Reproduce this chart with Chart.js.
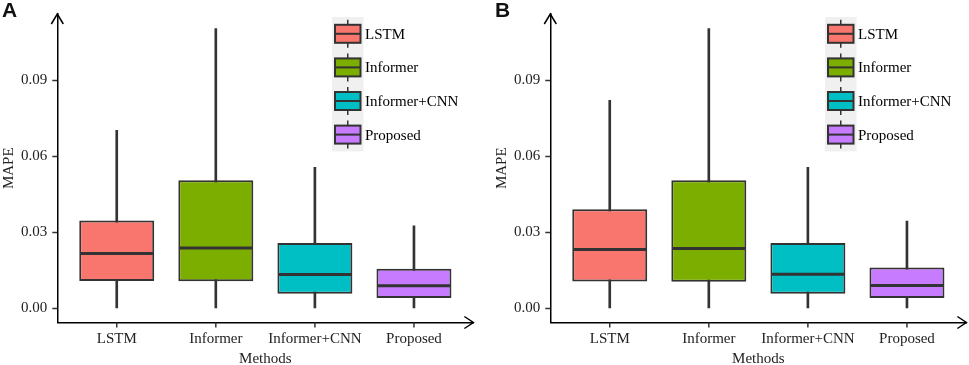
<!DOCTYPE html>
<html>
<head>
<meta charset="utf-8">
<script src="https://cdn.jsdelivr.net/npm/chart.js@4.4.1/dist/chart.umd.min.js"></script>
<style>
  html, body { margin: 0; padding: 0; background: #fff; }
  #wrap { position: relative; width: 969px; height: 365px; overflow: hidden; }
  .panel { position: absolute; top: 0; width: 476px; height: 365px; }
  .tag { position: absolute; top: -2px; left: 2px; font: bold 21px "Liberation Sans", Arial, sans-serif; color: #111; }
</style>
</head>
<body>
<div id="wrap">
  <div class="panel" style="left:0"><canvas id="chartA" width="476" height="365"></canvas><div class="tag">A</div></div>
  <div class="panel" style="left:493px"><canvas id="chartB" width="476" height="365"></canvas><div class="tag">B</div></div>
</div>
<script>
// métodos y colores (paleta por defecto de ggplot)
const methods = ["LSTM", "Informer", "Informer+CNN", "Proposed"];
const colors = ["#F8766D", "#7CAE00", "#00BFC4", "#C77CFF"];
const yTicks = [0, 0.03, 0.06, 0.09];
const yTickLabels = ["0.00", "0.03", "0.06", "0.09"];

// panel A: mínimo, Q1, mediana, Q3, máximo
const minA = [0, 0, 0, 0];
const q1A = [0.0108, 0.0107, 0.0057, 0.0041];
const medA = [0.0216, 0.0238, 0.0133, 0.0089];
const q3A = [0.0346, 0.0505, 0.0258, 0.0156];
const maxA = [0.0702, 0.1103, 0.0556, 0.0325];

// panel B
const minB = [0, 0, 0, 0];
const q1B = [0.0106, 0.0105, 0.0057, 0.0041];
const medB = [0.0232, 0.0236, 0.0134, 0.0090];
const q3B = [0.0391, 0.0505, 0.0258, 0.0161];
const maxB = [0.0820, 0.1103, 0.0556, 0.0344];

const INK = "#333333";
const TXT = "#222222";
const SERIF = "'Liberation Serif', 'Times New Roman', serif";

// flechas en los ejes, marcas del eje x + leyenda estilo ggplot
const decorPlugin = {
  id: "decor",
  afterDraw(chart){
    const { ctx, chartArea: a, scales } = chart;
    ctx.save();
    ctx.strokeStyle = "#000";
    ctx.lineWidth = 1.5;
    ctx.beginPath();
    ctx.moveTo(a.left - 6, a.top + 10); ctx.lineTo(a.left, a.top); ctx.lineTo(a.left + 6, a.top + 10);
    ctx.moveTo(a.right - 9, a.bottom - 6); ctx.lineTo(a.right, a.bottom); ctx.lineTo(a.right - 9, a.bottom + 6);
    ctx.stroke();

    // marcas bajo el eje x, en cada categoría
    ctx.strokeStyle = INK;
    ctx.lineWidth = 1.5;
    ctx.beginPath();
    methods.forEach((m, i) => {
      const px = scales.x.getPixelForValue(i + 1);
      ctx.moveTo(px, a.bottom); ctx.lineTo(px, a.bottom + 5);
    });
    ctx.stroke();

    // leyenda
    const lx = 332, ly = 17, cell = 33.6;
    ctx.fillStyle = "#F0F0F0";
    ctx.fillRect(lx, ly, 31.5, cell * methods.length);
    methods.forEach((m, k) => {
      const cy = ly + cell * k + cell / 2;
      const cx = lx + 15.75;
      ctx.strokeStyle = INK;
      ctx.lineWidth = 1.5;
      ctx.beginPath();
      ctx.moveTo(cx, cy - 14); ctx.lineTo(cx, cy + 14);
      ctx.stroke();
      ctx.fillStyle = colors[k];
      ctx.fillRect(lx + 3, cy - 9, 25.5, 18);
      ctx.lineWidth = 2;
      ctx.strokeRect(lx + 3, cy - 9, 25.5, 18);
      ctx.beginPath();
      ctx.moveTo(lx + 3, cy); ctx.lineTo(lx + 28.5, cy);
      ctx.stroke();
      ctx.fillStyle = "#000";
      ctx.font = "15px " + SERIF;
      ctx.textBaseline = "middle";
      ctx.textAlign = "left";
      ctx.fillText(m, lx + 33, cy + 1);
    });
    ctx.restore();
  }
};

function makeChart(id, mins, q1s, meds, q3s, maxs){
  const pts = (f) => methods.map((m, i) => ({ x: i + 1, y: f(i) }));
  return new Chart(document.getElementById(id), {
    type: "bar",
    data: {
      datasets: [
        {
          // bigotes
          data: pts(i => [mins[i], maxs[i]]),
          backgroundColor: INK,
          barThickness: 2,
          grouped: false,
          order: 3
        },
        {
          // cajas
          data: pts(i => [q1s[i], q3s[i]]),
          backgroundColor: colors,
          borderColor: INK,
          borderWidth: 2,
          borderSkipped: false,
          barPercentage: 0.757,
          categoryPercentage: 1,
          grouped: false,
          order: 2
        },
        {
          // medianas
          type: "line",
          data: pts(i => meds[i]),
          showLine: false,
          pointStyle: "line",
          pointRadius: (c) => c.chart.scales.x ? (c.chart.scales.x.width / 4.2) * 0.757 / 2 - 1 : 37,
          pointHoverRadius: 37,
          pointBorderWidth: 3,
          pointBorderColor: INK,
          order: 1
        }
      ]
    },
    options: {
      responsive: false,
      animation: false,
      events: [],
      layout: { padding: { top: 2, right: 2.6, left: 0, bottom: 0 } },
      plugins: { legend: { display: false }, tooltip: { enabled: false } },
      scales: {
        x: {
          type: "linear",
          min: 0.4,
          max: 4.6,
          offset: false,
          afterBuildTicks: (s) => { s.ticks = methods.map((m, i) => ({ value: i + 1 })); },
          afterFit: (s) => { s.height = 42.5; },
          grid: { display: false, tickLength: 5 },
          border: { display: true, color: "#000", width: 1.5 },
          ticks: {
            autoSkip: false, maxRotation: 0, padding: 3,
            color: TXT, font: { family: SERIF, size: 15 },
            callback: (v) => methods[v - 1]
          },
          title: { display: true, text: "Methods", color: TXT, font: { family: SERIF, size: 15, lineHeight: 1 }, padding: { top: 0, bottom: -1.5 } }
        },
        y: {
          min: -0.0056,
          max: 0.1161,
          afterBuildTicks: (s) => { s.ticks = yTicks.map(v => ({ value: v })); },
          afterFit: (s) => { s.width = 57.3; },
          grid: { drawOnChartArea: false, drawTicks: true, tickLength: 5, tickColor: INK, tickWidth: 1.5 },
          border: { display: true, color: "#000", width: 1.5 },
          ticks: {
            padding: 5, color: TXT, font: { family: SERIF, size: 15 },
            callback: (v) => yTickLabels[yTicks.indexOf(v)]
          },
          title: { display: true, text: "MAPE", color: TXT, font: { family: SERIF, size: 15 }, padding: { top: 0, bottom: 0 } }
        }
      }
    },
    plugins: [decorPlugin]
  });
}

makeChart("chartA", minA, q1A, medA, q3A, maxA);
makeChart("chartB", minB, q1B, medB, q3B, maxB);
</script>
</body>
</html>
